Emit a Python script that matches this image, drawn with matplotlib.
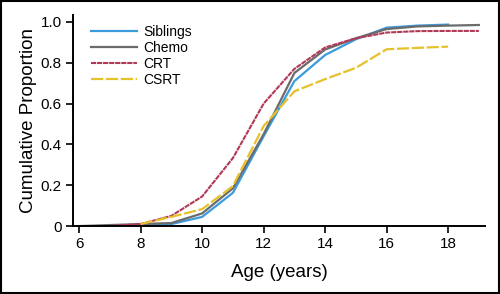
import matplotlib
matplotlib.use("Agg")
from matplotlib import pyplot as plt
from matplotlib.ticker import FuncFormatter

# Data
sibAge = [8, 9, 10, 11, 12, 13, 14, 15, 16, 17, 18]
sibVal = [0.005, 0.01, 0.045, 0.163, 0.44, 0.71, 0.838, 0.915, 0.972, 0.982, 0.987]

chemoAge = [6, 7, 8, 9, 10, 11, 12, 13, 14, 15, 16, 17, 18, 19]
chemoVal = [0.0, 0.005, 0.01, 0.015, 0.062, 0.185, 0.45, 0.75, 0.865, 0.92, 0.965, 0.978, 0.982, 0.985]

crtAge = [7, 8, 9, 10, 11, 12, 13, 14, 15, 16, 17, 18, 19]
crtVal = [0.0, 0.01, 0.05, 0.145, 0.333, 0.6, 0.77, 0.875, 0.92, 0.948, 0.955, 0.956, 0.956]

csrtAge = [8, 9, 10, 11, 12, 13, 14, 15, 16, 17, 18]
csrtVal = [0.01, 0.045, 0.083, 0.196, 0.49, 0.66, 0.72, 0.775, 0.866, 0.873, 0.879]

xTicks = [6, 8, 10, 12, 14, 16, 18]
yTicks = [0, 0.2, 0.4, 0.6, 0.8, 1.0]

plt.rcParams['font.family'] = ['Liberation Sans', 'DejaVu Sans']

fig = plt.figure(figsize=(5, 2.94), dpi=100)
ax = fig.add_axes([0.146, 0.231, 0.824, 0.718])

ax.plot(sibAge, sibVal, color='#3b9bdc', lw=1.6, label='Siblings')
ax.plot(chemoAge, chemoVal, color='#6b6b6b', lw=1.6, label='Chemo')
ax.plot(crtAge, crtVal, color='#b03a57', lw=1.5, dashes=(2.5, 0.4), label='CRT')
ax.plot(csrtAge, csrtVal, color='#e6c12c', lw=1.6, dashes=(5.5, 1.2), label='CSRT')

ax.set_xlim(5.8, 19.2)
ax.set_ylim(0, 1.034)
ax.set_xticks(xTicks)
ax.set_yticks(yTicks)
ax.yaxis.set_major_formatter(FuncFormatter(lambda v, p: '0' if v == 0 else '%.1f' % v))

for s in ('top', 'right'):
    ax.spines[s].set_visible(False)
for s in ('left', 'bottom'):
    ax.spines[s].set_linewidth(1.4)
ax.tick_params(direction='out', length=5, width=1.2, labelsize=11, pad=3)

ax.set_xlabel('Age (years)', fontsize=13.5, labelpad=9)
ax.set_ylabel('Cumulative Proportion', fontsize=13.5, labelpad=3)

ax.legend(loc='upper left', bbox_to_anchor=(0.02, 1.0), frameon=False, fontsize=10,
          handlelength=3.3, handletextpad=0.5, labelspacing=0.15, borderaxespad=0.3)

# black frame round the whole picture
fig.patches.append(plt.Rectangle((0.001, 0.002), 0.997, 0.995, transform=fig.transFigure,
                                 fill=False, edgecolor='black', lw=1.5))

fig.savefig('out.png', dpi=100)
